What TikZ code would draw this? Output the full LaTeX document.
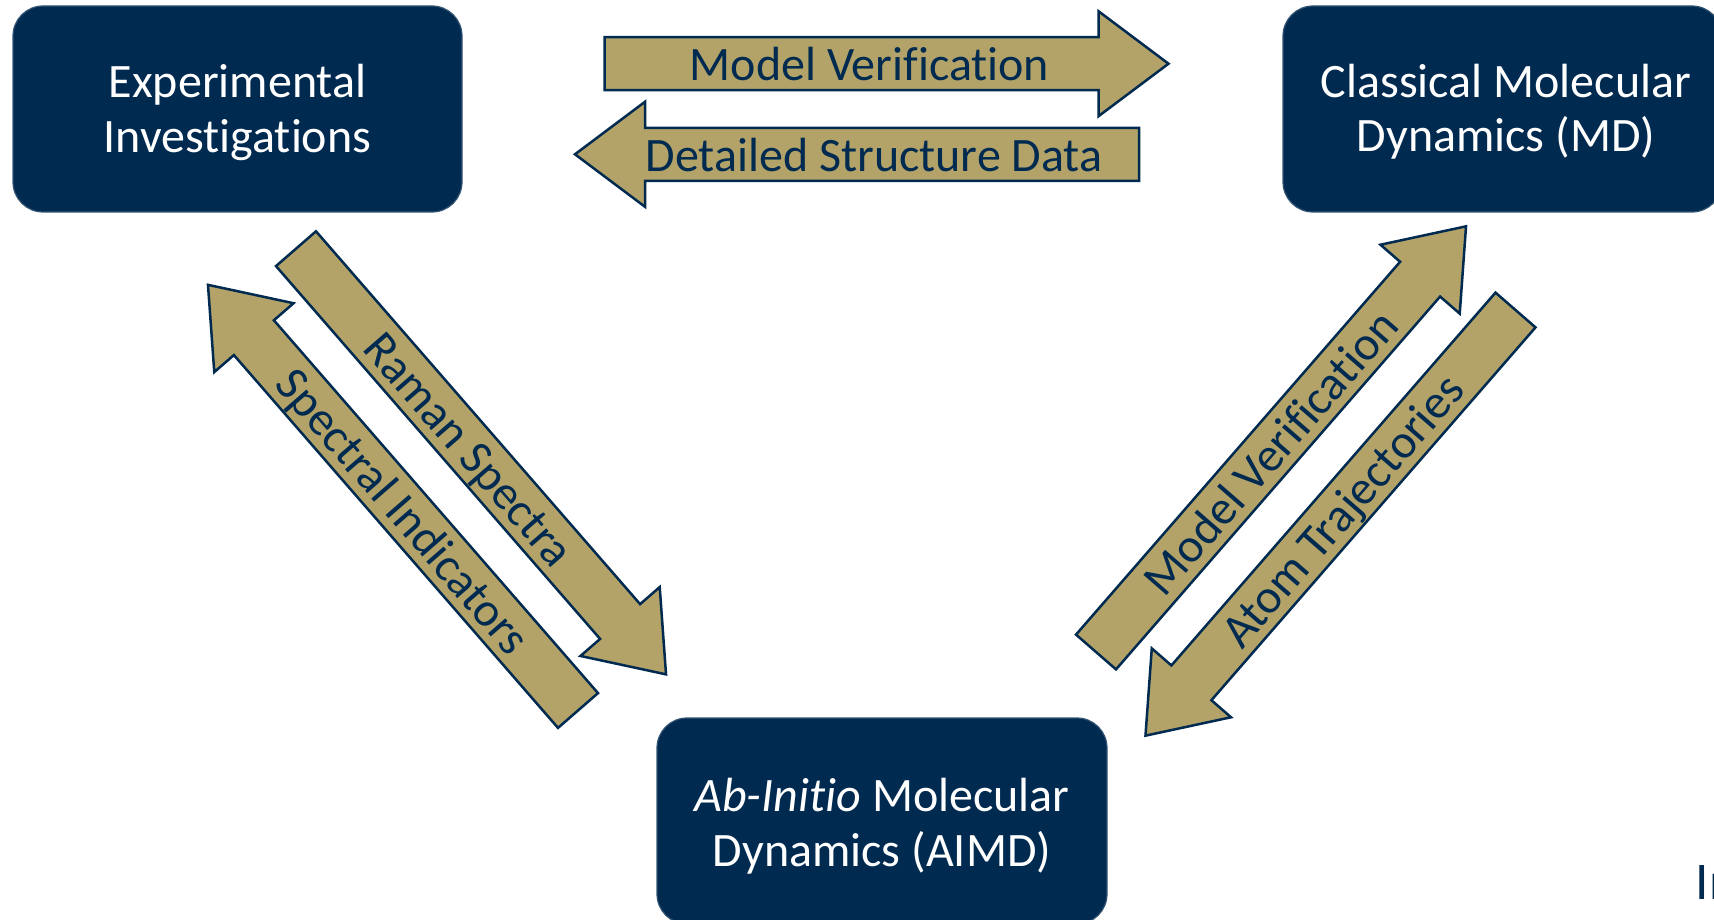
\documentclass[tikz,border=0pt]{standalone}
\usepackage{fontspec}
\setmainfont{Carlito}[Ligatures=NoCommon]
\definecolor{gtnavy}{RGB}{0,42,80}
\definecolor{gtgold}{RGB}{179,163,105}
\tikzset{
  navybox/.style={draw=gtnavy!80!white, line width=1.2pt, fill=gtnavy, rounded corners=30pt, inner sep=0pt},
  boxlbl/.style={text=white, font=\fontsize{48}{55}\selectfont, inner sep=0pt, anchor=base},
  arrowshape/.style={draw=gtnavy, fill=gtgold, line width=2.5pt, line join=miter},
  arrowlbl/.style={text=gtnavy, font=\fontsize{48}{55}\selectfont, inner sep=0pt, anchor=base, transform shape},
}
% #1 label name, #2 tail centre, #3 direction angle, #4 text, #5 extra text rotation, #6 baseline offset
\newcommand\blockarrow[6]{%
  \begin{scope}[shift={#2}, rotate=#3]
    \draw[arrowshape] (0,26.5) -- (494,26.5) -- (494,52.5) -- (564,0) -- (494,-52.5) -- (494,-26.5) -- (0,-26.5) -- cycle;
    \node[arrowlbl, rotate=#5] (#1) at (265,#6) {#4};
  \end{scope}}
\begin{document}
\begin{tikzpicture}[x=1pt, y=1pt]
  \useasboundingbox (0,0) rectangle (1714,-920);
  \clip (0,0) rectangle (1714,-920);
  \fill[white] (0,0) rectangle (1714,-920);

  % boxes
  \path[navybox] (13,-6) rectangle (462,-212);
  \node[inner sep=0pt, minimum width=449pt, minimum height=206pt] (exp) at (237.5,-109) {};
  \node[boxlbl] (exp1) at (237.5,-98) {Experimental};
  \node[boxlbl] (exp2) at (237.5,-153) {Investigations};

  \path[navybox] (1283,-6) rectangle (1722,-212);
  \node[inner sep=0pt, minimum width=439pt, minimum height=206pt] (cmd) at (1502.5,-109) {};
  \node[boxlbl] (cmd1) at (1506,-98) {Classical Molecular};
  \node[boxlbl] (cmd2) at (1506,-152) {Dynamics (MD)};

  \path[navybox] (657,-718) rectangle (1107,-924);
  \node[inner sep=0pt, minimum width=450pt, minimum height=206pt] (aimd) at (882,-821) {};
  \node[boxlbl] (aimd1) at (882,-811) {\textit{Ab-Initio} Molecular};
  \node[boxlbl] (aimd2) at (882,-866) {Dynamics (AIMD)};

  % block arrows
  \blockarrow{mv1}{(604.5,-63.7)}{0}{Model Verification}{0}{-17}
  \blockarrow{dsd}{(1139,-154.3)}{180}{Detailed Structure Data}{180}{17}
  \blockarrow{ram}{(296,-248.7)}{-49}{Raman Spectra}{0}{-17}
  \blockarrow{spi}{(578,-710.5)}{131}{Spectral Indicators}{180}{17}
  \blockarrow{mv2}{(1096,-652)}{49}{Model Verification}{0}{-17}
  \blockarrow{atr}{(1515.5,-310)}{229}{Atom Trajectories}{180}{17}

  % cut-off text at the right edge
  \node[text=gtnavy, font=\fontsize{53}{60}\selectfont, anchor=base west, inner sep=0pt] (cut) at (1695.5,-899) {In};
\end{tikzpicture}
\end{document}
